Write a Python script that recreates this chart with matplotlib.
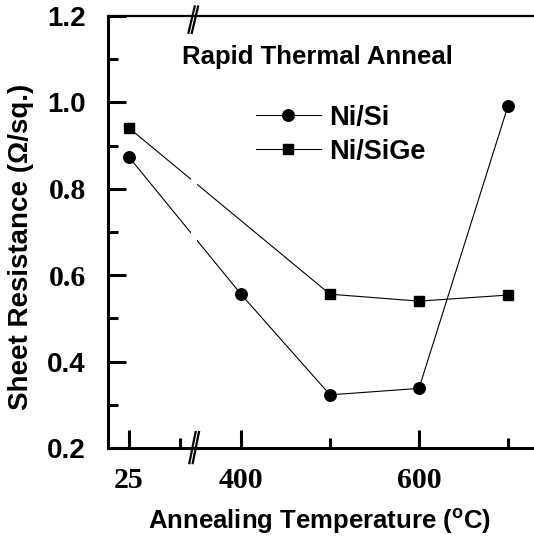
import matplotlib
matplotlib.use("Agg")
import matplotlib.pyplot as plt
import numpy as np
from matplotlib.ticker import FixedLocator

SANS = "Liberation Sans"
SERIF = "Liberation Serif"

temperatures = np.array([25, 400, 500, 600, 700])
ni_si = [0.874, 0.556, 0.323, 0.338, 0.992]
ni_sige = [0.941, None, 0.556, 0.540, 0.554]

x_major = [25, 400, 600]
x_minor = [82, 500, 700]
x_tick_labels = ["25", "400", "600"]
y_major = [0.2, 0.4, 0.6, 0.8, 1.0, 1.2]
y_minor = [0.3, 0.5, 0.7, 0.9, 1.1]
y_tick_labels = ["0.2", "0.4", "0.6", "0.8", "1.0", "1.2"]
serif_y_labels = {"0.6", "0.8"}


def axis_x(t):
    # broken axis: the room temperature side is pulled in next to the break
    t = np.asarray(t, dtype=float)
    return np.where(t < 340, t + 249, t)


def series(values):
    pts = [(t, v) for t, v in zip(temperatures, values) if v is not None]
    t, v = zip(*pts)
    return axis_x(t), np.array(v)


fig = plt.figure(figsize=(5.34, 5.37), dpi=100)
ax = fig.add_axes([108 / 534, 89 / 537, 426 / 534, 432 / 537])

x, y = series(ni_si)
ax.plot(x, y, color="black", lw=0.8, marker="o", ms=8.3, label="Ni/Si", zorder=3)
x, y = series(ni_sige)
ax.plot(x, y, color="black", lw=0.8, marker="s", ms=7.5, label="Ni/SiGe", zorder=3)

ax.set_xlim(250.6, 729.2)
ax.set_ylim(0.2, 1.2)

# white gap in the lines at the axis break
ax.axvspan(343.5, 350.5, color="white", zorder=3.5, lw=0)

ax.spines["right"].set_visible(False)
for side in ["left", "bottom"]:
    ax.spines[side].set_linewidth(2.2)
ax.spines["top"].set_linewidth(1.6)
for sp in ax.spines.values():
    sp.set_zorder(5)

ax.xaxis.set_major_locator(FixedLocator(axis_x(x_major)))
ax.xaxis.set_minor_locator(FixedLocator(axis_x(x_minor)))
ax.yaxis.set_major_locator(FixedLocator(y_major))
ax.yaxis.set_minor_locator(FixedLocator(y_minor))
ax.tick_params(which="major", direction="in", length=13, width=2.2, top=False, right=False)
ax.tick_params(which="minor", direction="in", length=7, width=2.2, top=False, right=False)
ax.tick_params(axis="x", which="major", pad=14)
ax.tick_params(axis="y", which="major", pad=16)

ax.set_xticklabels(x_tick_labels, fontfamily=SERIF, fontweight="bold", fontsize=21.5)
ax.set_yticklabels(y_tick_labels, fontweight="bold")
for lab in ax.get_yticklabels():
    if lab.get_text() in serif_y_labels:
        lab.set_fontfamily(SERIF)
        lab.set_fontsize(21.5)
    else:
        lab.set_fontfamily(SANS)
        lab.set_fontsize(20)

# break marks on the bottom and top spines
for dx in (0, 3.8):
    ax.plot([342 + dx, 349 + dx], [0.165, 0.237], color="black", lw=1.6,
            clip_on=False, zorder=6)
    ax.plot([341 + dx, 348 + dx], [1.161, 1.222], color="black", lw=1.6,
            clip_on=False, zorder=6)

ax.text(0.4906, 0.905, "Rapid Thermal Anneal", transform=ax.transAxes,
        ha="center", va="center", fontfamily=SANS, fontweight="bold", fontsize=18.5,
        zorder=7)

leg = ax.legend(loc="upper left", bbox_to_anchor=(0.347, 0.795), frameon=False,
                borderpad=0, borderaxespad=0, handlelength=2.4, handletextpad=0.3,
                labelspacing=0.3, prop={"family": SANS, "weight": "bold", "size": 19.5})

ax.set_xlabel("Annealing Temperature ($\\mathregular{^o}$C)", fontfamily=SANS,
              fontweight="bold", fontsize=18.5)
ax.set_ylabel("Sheet Resistance (Ω/sq.)", fontfamily=SANS, fontweight="bold",
              fontsize=20)
ax.xaxis.set_label_coords((320 - 108) / 426, -(507 - 448) / 432)
ax.yaxis.set_label_coords(-(108 - 34) / 426, (448 - 247) / 432)

fig.savefig("out.png", dpi=100)
